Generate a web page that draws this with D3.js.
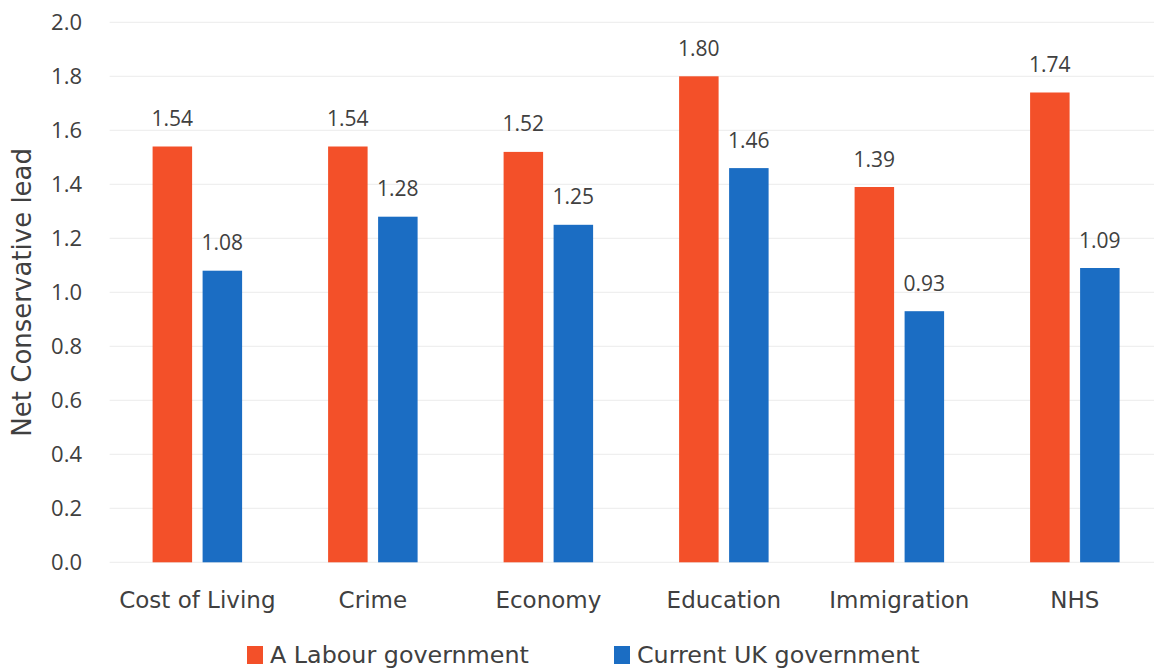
<!DOCTYPE html>
<html>
<head>
<meta charset="utf-8">
<script src="https://cdn.jsdelivr.net/npm/d3@7"></script>
<style>
  html, body { margin: 0; padding: 0; background: #fff; }
  svg { display: block; font-family: "Open Sans", sans-serif; }
</style>
</head>
<body>
<svg id="chart" width="1154" height="668"></svg>
<script>
const categories = ["Cost of Living", "Crime", "Economy", "Education", "Immigration", "NHS"];
const seriesNames = ["A Labour government", "Current UK government"];
const labourValues = [1.54, 1.54, 1.52, 1.80, 1.39, 1.74];
const currentValues = [1.08, 1.28, 1.25, 1.46, 0.93, 1.09];
const yTicks = [0, 0.2, 0.4, 0.6, 0.8, 1.0, 1.2, 1.4, 1.6, 1.8, 2.0];
const colors = ["#F35029", "#1B6DC3"];
const yTitle = "Net Conservative lead";

(function () {
const svg = d3.select("#chart");
const textColor = "#404040";
const wideFont = "DejaVu Sans, sans-serif";
const numFont = "Open Sans, sans-serif";

const pLeft = 109.6, pRight = 1162.6, pTop = 22.3, pBottom = 562.3;

const y = d3.scaleLinear().domain([0, 2]).range([pBottom, pTop]);
const x0 = d3.scaleBand().domain(categories).range([pLeft, pRight])
  .paddingInner(0.49).paddingOuter(0.245);
const x1 = d3.scaleBand().domain([0, 1]).range([0, x0.bandwidth()]).paddingInner(0.21);

// gridlines
svg.append("g").selectAll("line").data(yTicks).join("line")
  .attr("x1", pLeft).attr("x2", pRight)
  .attr("y1", d => y(d)).attr("y2", d => y(d))
  .attr("stroke", "#EFEFEF").attr("stroke-width", 1.2);

// y axis labels
const yAxis = d3.axisLeft(y).tickValues(yTicks).tickFormat(d3.format(".1f")).tickSize(0).tickPadding(0);
const gy = svg.append("g").attr("transform", "translate(82,0)").call(yAxis);
gy.select(".domain").remove();
gy.selectAll("text").attr("font-size", 22).attr("fill", textColor)
  .attr("font-family", numFont);

// x axis labels
const xAxis = d3.axisBottom(x0).tickSize(0).tickPadding(0);
const gx = svg.append("g").attr("transform", `translate(0,${pBottom})`).call(xAxis);
gx.select(".domain").remove();
gx.selectAll("text").attr("font-size", 23).attr("fill", textColor)
  .attr("font-family", wideFont)
  .attr("dy", null).attr("y", 46);

// bars
const rows = categories.map((c, i) => ({ cat: c, vals: [labourValues[i], currentValues[i]] }));
const groups = svg.append("g").selectAll("g").data(rows).join("g")
  .attr("transform", d => `translate(${x0(d.cat)},0)`);
groups.selectAll("rect").data(d => d.vals.map((v, j) => ({ v, j }))).join("rect")
  .attr("x", d => x1(d.j)).attr("width", x1.bandwidth())
  .attr("y", d => y(d.v)).attr("height", d => y(0) - y(d.v))
  .attr("fill", d => colors[d.j]);
groups.selectAll("text").data(d => d.vals.map((v, j) => ({ v, j }))).join("text")
  .attr("x", d => x1(d.j) + x1.bandwidth() / 2)
  .attr("y", d => y(d.v) - 20.5)
  .attr("text-anchor", "middle").attr("font-size", 21).attr("fill", textColor)
  .attr("font-family", numFont)
  .text(d => d3.format(".2f")(d.v));

// y title
svg.append("text")
  .attr("transform", `translate(31,${(pTop + pBottom) / 2}) rotate(-90)`)
  .attr("text-anchor", "middle").attr("font-size", 26).attr("fill", textColor)
  .attr("font-family", wideFont)
  .text(yTitle);

// legend
const legendX = [247, 614];
const lg = svg.append("g").selectAll("g").data(seriesNames).join("g")
  .attr("transform", (d, i) => `translate(${legendX[i]},646)`);
lg.append("rect").attr("width", 16).attr("height", 18).attr("fill", (d, i) => colors[i]);
lg.append("text").attr("x", 23).attr("y", 17).attr("font-size", 23.8).attr("fill", textColor)
  .attr("font-family", wideFont).text(d => d);
})();
</script>
</body>
</html>
